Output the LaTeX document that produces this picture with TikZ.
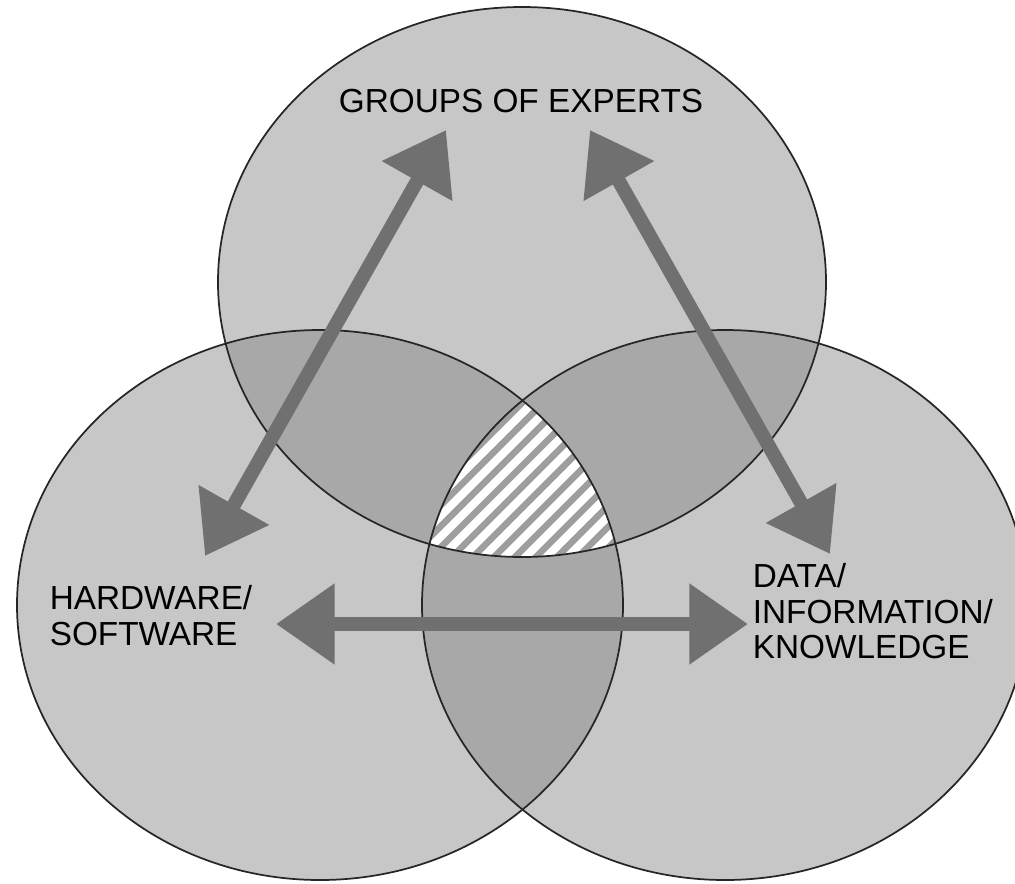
\documentclass[tikz,border=0pt]{standalone}
\usepackage{fontspec}
\setmainfont{Liberation Sans}
\usetikzlibrary{arrows.meta}

\definecolor{ringgray}{RGB}{199,199,199}
\definecolor{lensgray}{RGB}{168,168,168}
\definecolor{arrowgray}{RGB}{112,112,112}
\definecolor{hatchgray}{RGB}{158,158,158}

\tikzset{every picture/.style={line width=1.2pt}}
\tikzset{
  ring/.style={fill=ringgray},
  lens/.style={fill=lensgray},
  rim/.style={draw=black!85, line width=1.3pt},
  link/.style={draw=arrowgray, line width=10.5pt,
    {Triangle[length=44pt,width=58pt]}-{Triangle[length=44pt,width=58pt]}},
  venntext/.style={font=\fontsize{25}{26.5}\selectfont, inner sep=0pt, align=left}
}

% the three rings
\def\ringtop{(522,282) ellipse [x radius=304, y radius=275]}
\def\ringleft{(320,605) ellipse [x radius=303, y radius=275]}
\def\ringright{(725,605) ellipse [x radius=303, y radius=275]}

\begin{document}
\begin{tikzpicture}[x=0.75pt,y=0.75pt,yscale=-1,xscale=1]
    \useasboundingbox (0,0) rectangle (1015,883);

    %Shape: Ellipse (fills)
    \path[ring] \ringtop;
    \path[ring] \ringleft;
    \path[ring] \ringright;

    %Shape: pairwise overlaps
    \begin{scope}
      \clip \ringtop;
      \path[lens] \ringleft;
      \path[lens] \ringright;
    \end{scope}
    \begin{scope}
      \clip \ringleft;
      \path[lens] \ringright;
    \end{scope}

    %Shape: hatched centre
    \begin{scope}
      \clip \ringtop;
      \clip \ringleft;
      \clip \ringright;
      \fill[white] (400,380) rectangle (650,580);
      \foreach \c in {820,841,...,1200}
        \draw[hatchgray, line width=5pt] (\c-380,380) -- (\c-600,600);
    \end{scope}

    %Shape: Ellipse (outlines)
    \draw[rim] \ringtop;
    \draw[rim] \ringleft;
    \draw[rim] \ringright;

    % arrow ends
    \coordinate (expertsA) at (446,130);
    \coordinate (expertsB) at (590,130);
    \coordinate (hardA) at (205,556);
    \coordinate (hardB) at (276,624);
    \coordinate (dataA) at (830,554);
    \coordinate (dataB) at (748,624);

    %Arrows
    \draw[link] (expertsA) -- (hardA);
    \draw[link] (expertsB) -- (dataA);
    \draw[link] (hardB) -- (dataB);

    % Text Node
    \node[venntext] (experts) at (521,101) {GROUPS OF EXPERTS};
    % Text Node
    \node[venntext, anchor=north west] (hardware) at (49,585) {HARDWARE/\\SOFTWARE};
    % Text Node
    \node[venntext, anchor=north west] (data) at (752,563) {DATA/\\INFORMATION/\\KNOWLEDGE};

\end{tikzpicture}
\end{document}
